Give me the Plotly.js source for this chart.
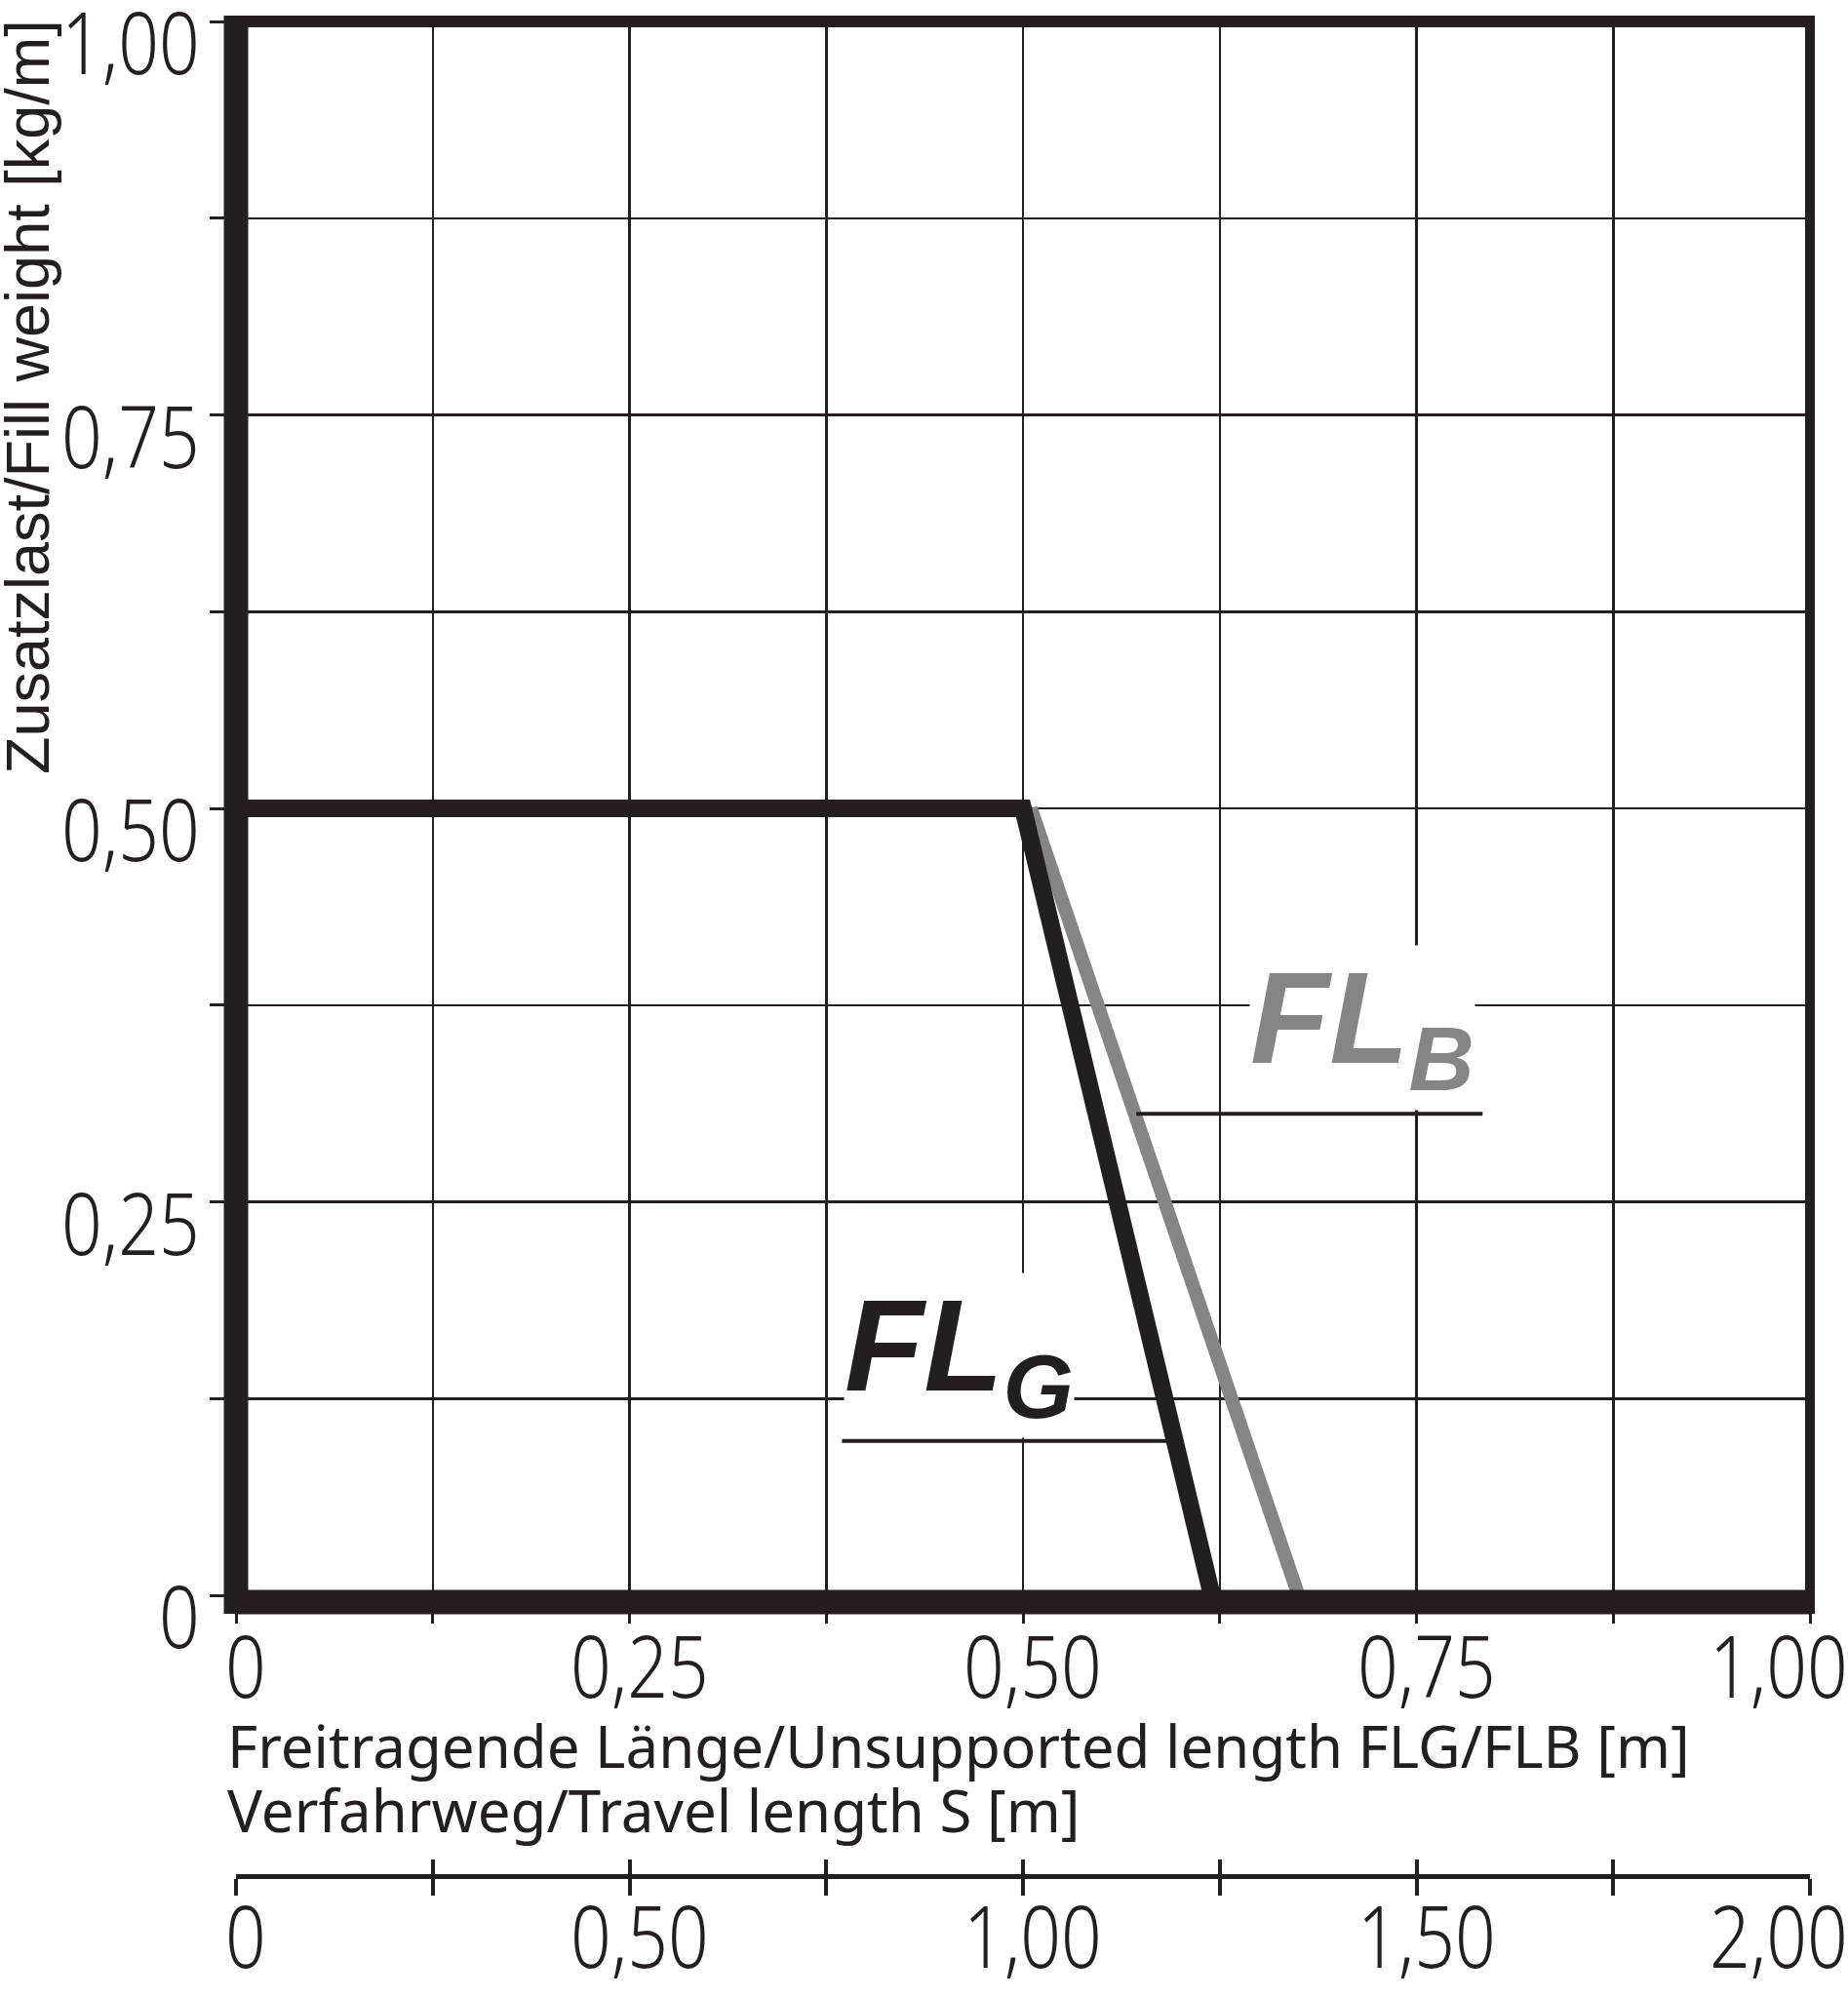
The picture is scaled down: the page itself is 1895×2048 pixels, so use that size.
<!DOCTYPE html>
<html>
<head>
<meta charset="utf-8">
<script src="https://cdn.plot.ly/plotly-3.0.1.min.js"></script>
<style>
html,body{margin:0;padding:0;background:#fff;}
#chart{width:1895px;height:2048px;}
/* narrow the light digits, like the condensed face of the original */
text[style*="Roboto"]{transform:scaleX(0.83);transform-box:fill-box;transform-origin:center;}
text[style*="Roboto, Arial"]{transform-origin:right center;}
</style>
</head>
<body>
<div id="chart"></div>
<script>
// ---------- data ----------
const flgX = [0, 0.5, 0.62];
const flgY = [0.5, 0.5, 0];
const flbX = [0.505, 0.675];
const flbY = [0.5, 0];

const xTickVals = [0, 0.25, 0.5, 0.75, 1.0];
const xTickText = ['0', '0,25', '0,50', '0,75', '1,00'];
const yTickVals = [0, 0.25, 0.5, 0.75, 1.0];
const yTickText = ['0', '0,25', '0,50', '0,75', '1,00'];
const sTickVals = [0, 0.5, 1.0, 1.5, 2.0];
const sTickText = ['0', '0,50', '1,00', '1,50', '2,00'];

const yTitle = 'Zusatzlast/Fill weight [kg/m]';
const xTitle1 = 'Freitragende Länge/Unsupported length FLG/FLB [m]';
const xTitle2 = 'Verfahrweg/Travel length S [m]';
const labelG = 'FL<sub>G</sub>';
const labelB = 'FL<sub>B</sub>';

// ---------- style ----------
const INK = '#231f20';
const GREY = '#858585';
const numFontX = {family: '"Noto Sans", Roboto, sans-serif', size: 88, weight: 300, color: INK};
const numFontY = {family: '"Noto Sans", Roboto, Arial, sans-serif', size: 88, weight: 300, color: INK};
const titleFont = {family: '"Noto Sans", Lato, sans-serif', size: 60, color: INK};
const yTitleFont = {family: '"Liberation Sans", Arial, sans-serif', size: 63, color: INK};
const PX = 1614; // pixels per unit of plot domain

const traces = [
  {x: flbX, y: flbY, type: 'scatter', mode: 'lines', line: {color: GREY, width: 14}, hoverinfo: 'skip', showlegend: false},
  {x: flgX, y: flgY, type: 'scatter', mode: 'lines', line: {color: INK, width: 18}, hoverinfo: 'skip', showlegend: false},
  {x: [], y: [], xaxis: 'x2', yaxis: 'y', type: 'scatter', showlegend: false},
  {x: [], y: [], xaxis: 'x3', yaxis: 'y', type: 'scatter', showlegend: false}
];

const annotations = [];
xTickVals.forEach((v, i) => {
  const last = i === xTickVals.length - 1;
  annotations.push({xref: 'x', yref: 'paper', x: v, y: 0, yshift: 217, xanchor: 'center',
    xshift: last ? -32 : 10, yanchor: 'middle', text: xTickText[i], showarrow: false, font: numFontX, borderpad: 0});
});
sTickVals.forEach((v, i) => {
  const last = i === sTickVals.length - 1;
  annotations.push({xref: 'x2', yref: 'paper', x: v, y: 0, yshift: -60, xanchor: 'center',
    xshift: last ? -32 : 10, yanchor: 'middle', text: sTickText[i], showarrow: false, font: numFontX, borderpad: 0});
});
yTickVals.forEach((v, i) => {
  annotations.push({xref: 'paper', yref: 'y', x: 0, y: v, xshift: -36, yshift: -20, xanchor: 'right', yanchor: 'middle',
    text: yTickText[i], showarrow: false, font: numFontY, borderpad: 0});
});
annotations.push({xref: 'paper', yref: 'paper', x: 0, y: 1, xshift: -214, yshift: -385, xanchor: 'center', yanchor: 'middle',
  textangle: -90, text: yTitle, showarrow: false, font: yTitleFont, borderpad: 0});
annotations.push({xref: 'paper', yref: 'paper', x: 0, y: 0, xshift: -10, yshift: 134, xanchor: 'left', yanchor: 'middle',
  text: xTitle1, showarrow: false, font: titleFont, borderpad: 0});
annotations.push({xref: 'paper', yref: 'paper', x: 0, y: 0, xshift: -10, yshift: 68, xanchor: 'left', yanchor: 'middle',
  text: xTitle2, showarrow: false, font: titleFont, borderpad: 0});
annotations.push({xref: 'x', yref: 'y', x: 0.386, y: 0.1, xanchor: 'left', yanchor: 'bottom', text: '<b><i>' + labelG + '</i></b>',
  showarrow: false, bgcolor: '#ffffff', borderpad: 0, font: {family: '"Liberation Sans", Arial, sans-serif', size: 133, color: INK}});
annotations.push({xref: 'x', yref: 'y', x: 0.644, y: 0.308, xanchor: 'left', yanchor: 'bottom', text: '<b><i>' + labelB + '</i></b>',
  showarrow: false, bgcolor: '#ffffff', borderpad: 0, font: {family: '"Liberation Sans", Arial, sans-serif', size: 133, color: GREY}});

const shapes = [
  // frame
  {type: 'line', xref: 'x domain', yref: 'y domain', x0: 0, x1: 1, y0: 1, y1: 1, line: {color: INK, width: 12}},
  {type: 'line', xref: 'x domain', yref: 'y domain', x0: 1, x1: 1, y0: -19 / PX, y1: 1 + 6 / PX, line: {color: INK, width: 10}},
  {type: 'line', xref: 'x domain', yref: 'y domain', x0: 0, x1: 0, y0: -19 / PX, y1: 1 + 6 / PX, line: {color: INK, width: 25}},
  {type: 'line', xref: 'x domain', yref: 'y domain', x0: 0, x1: 1, y0: -7 / PX, y1: -7 / PX, line: {color: INK, width: 25}},
  // label leader lines
  {type: 'line', xref: 'x', yref: 'y', x0: 0.385, x1: 0.5935, y0: 0.098, y1: 0.098, line: {color: INK, width: 4}},
  {type: 'line', xref: 'x', yref: 'y', x0: 0.572, x1: 0.792, y0: 0.306, y1: 0.306, line: {color: INK, width: 4}}
];

const gridAxis = {range: [0, 1], dtick: 0.125, tick0: 0, showgrid: true, gridcolor: INK, gridwidth: 2.5,
  zeroline: false, showline: false, showticklabels: false, ticks: 'outside', tickcolor: INK, fixedrange: true};

const layout = {
  width: 1895, height: 2048,
  margin: {l: 241.5, r: 39, t: 22, b: 124, pad: 0},
  paper_bgcolor: '#ffffff', plot_bgcolor: '#ffffff',
  showlegend: false,
  xaxis: Object.assign({}, gridAxis, {anchor: 'y', ticklen: 28, tickwidth: 3}),
  yaxis: Object.assign({}, gridAxis, {domain: [0.1514, 1], anchor: 'x', ticklen: 26, tickwidth: 3}),
  xaxis2: {overlaying: 'x', anchor: 'free', position: 0, side: 'bottom', range: [0, 2], dtick: 0.25, tick0: 0,
    showgrid: false, zeroline: false, showline: true, linecolor: INK, linewidth: 5, ticks: 'outside', ticklen: 17,
    tickwidth: 4, tickcolor: INK, showticklabels: false, fixedrange: true},
  xaxis3: {overlaying: 'x', anchor: 'free', position: 0, side: 'bottom', range: [0, 2], dtick: 0.25, tick0: 0,
    showgrid: false, zeroline: false, showline: false, ticks: 'inside', ticklen: 17,
    tickwidth: 4, tickcolor: INK, showticklabels: false, fixedrange: true},
  shapes: shapes,
  annotations: annotations
};

Plotly.newPlot('chart', traces, layout, {staticPlot: true, displayModeBar: false});
</script>
</body>
</html>
